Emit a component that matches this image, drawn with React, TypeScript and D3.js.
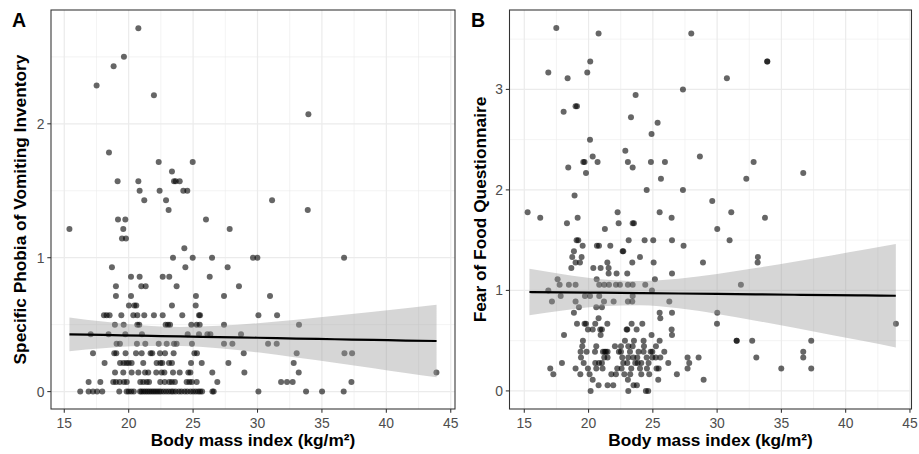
import React from "react";
import * as d3 from "d3";

// ---------- axis ticks ----------
const xTicks = [15, 20, 25, 30, 35, 40, 45];
const xMinor = [17.5, 22.5, 27.5, 32.5, 37.5, 42.5];
const spoviYTicks = [0, 1, 2];
const spoviYMinor = [0.5, 1.5, 2.5];
const fofqYTicks = [0, 1, 2, 3];
const fofqYMinor = [0.5, 1.5, 2.5, 3.5];

// ---------- Panel A: SPOVI (score, list of BMI values at that score) ----------
const spoviRows: [number, number[]][] = [
  [2.714, [20.75]],
  [2.5, [19.63]],
  [2.429, [18.83]],
  [2.286, [17.51]],
  [2.214, [21.96]],
  [2.071, [33.95]],
  [1.786, [18.47]],
  [1.714, [22.33, 24.97]],
  [1.643, [23.36]],
  [1.571, [19.14, 20.75, 23.52, 23.65, 23.96]],
  [1.5, [20.85, 22.4, 24.24, 24.55]],
  [1.429, [21.21, 22.9, 31.13]],
  [1.357, [23.1, 33.9]],
  [1.286, [19.17, 19.74, 26.0]],
  [1.214, [15.4, 19.58, 27.84]],
  [1.143, [19.48, 19.79]],
  [1.071, [24.32]],
  [1.0, [23.44, 24.97, 26.47, 29.65, 29.99, 36.72]],
  [0.929, [18.7, 24.4, 27.68]],
  [0.857, [20.18, 20.85, 22.64, 23.15, 26.29]],
  [0.786, [19.01, 20.98, 21.32, 23.72, 28.56]],
  [0.714, [19.01, 20.18, 25.22, 27.4, 30.97]],
  [0.643, [20.02, 20.44, 20.59, 23.36, 25.2]],
  [0.571, [18.08, 18.29, 18.52, 19.43, 20.36, 20.67, 21.21, 21.96, 22.64, 24.16, 25.46, 25.54, 30.07, 31.52]],
  [0.5, [18.93, 19.61, 20.67, 20.82, 22.87, 23.05, 23.21, 24.86, 25.28, 25.51, 27.4, 33.22]],
  [0.429, [17.05, 18.44, 19.74, 21.03, 24.58, 25.46, 26.11, 26.34, 28.72]],
  [0.357, [19.06, 19.32, 20.64, 21.29, 22.33, 22.95, 23.52, 23.72, 24.91, 27.4, 28.05, 30.82, 31.49]],
  [0.286, [17.23, 18.88, 19.04, 19.76, 20.57, 21.01, 21.7, 21.83, 22.43, 22.82, 23.49, 25.1, 25.3, 28.93, 33.04, 36.75, 37.34]],
  [0.214, [18.13, 19.33, 19.6, 19.82, 20.0, 20.23, 21.13, 22.17, 22.46, 22.61, 23.13, 23.36, 24.84, 25.67, 27.74, 32.81]],
  [0.143, [18.94, 19.58, 20.23, 20.75, 21.27, 21.52, 22.14, 22.56, 22.77, 23.44, 23.96, 24.63, 24.79, 26.49, 28.98, 33.2, 43.89]],
  [0.071, [16.89, 17.8, 18.8, 19.01, 19.3, 19.63, 19.85, 20.9, 21.13, 21.4, 21.58, 22.45, 22.8, 23.15, 23.35, 23.59, 24.5, 24.71, 24.9, 25.28, 26.88, 31.83, 32.29, 32.73, 37.29]],
  [0, [16.24, 16.89, 17.23, 17.55, 17.95, 19.27, 19.84, 20.0, 20.2, 20.4, 20.88, 21.0, 21.15, 21.3, 21.45, 21.6, 21.75, 21.9, 22.05, 22.2, 22.35, 22.5, 22.7, 22.9, 23.1, 23.3, 23.45, 23.65, 23.9, 24.1, 24.35, 24.55, 24.8, 25.0, 25.2, 25.4, 25.55, 25.7, 26.5, 26.6, 30.07, 33.77, 35.01, 36.69]],
];

// regression fit + 95% band
const spoviFitX = [15.4, 18, 21, 24, 27, 30, 33, 36, 39, 41.5, 43.9];
const spoviFit = [0.428, 0.423, 0.418, 0.412, 0.407, 0.402, 0.396, 0.391, 0.386, 0.381, 0.378];
const spoviLo = [0.302, 0.323, 0.34, 0.341, 0.323, 0.293, 0.255, 0.216, 0.175, 0.139, 0.107];
const spoviHi = [0.554, 0.523, 0.496, 0.483, 0.491, 0.511, 0.537, 0.566, 0.597, 0.623, 0.649];

// ---------- Panel B: FOFQ ----------
const fofqRows: [number, number[]][] = [
  [3.611, [17.49]],
  [3.556, [20.78, 27.99]],
  [3.278, [20.13, 33.9, 33.9]],
  [3.167, [16.87, 19.9]],
  [3.111, [18.37, 30.76]],
  [3.0, [27.34]],
  [2.944, [23.66]],
  [2.833, [18.99, 19.1]],
  [2.778, [18.06]],
  [2.722, [23.3]],
  [2.667, [25.37]],
  [2.556, [24.9]],
  [2.5, [20.11]],
  [2.389, [22.86]],
  [2.333, [20.32, 28.66]],
  [2.278, [19.59, 19.69, 20.7, 23.06, 24.85, 25.94, 32.84]],
  [2.222, [18.42, 23.43]],
  [2.167, [19.8, 36.7]],
  [2.111, [25.63, 32.27]],
  [2.0, [24.52, 27.34]],
  [1.944, [18.91]],
  [1.889, [29.62]],
  [1.778, [15.26, 22.26, 25.53, 31.1]],
  [1.722, [16.24, 19.15, 26.46, 33.72]],
  [1.667, [18.32, 22.34, 23.43, 23.53]],
  [1.611, [21.27, 30.01]],
  [1.5, [19.07, 19.2, 23.12, 24.36, 25.03, 26.49, 30.97]],
  [1.444, [19.54, 20.65, 20.81, 21.69, 27.39]],
  [1.389, [18.86, 22.65, 22.7]],
  [1.333, [18.73, 19.46, 24.0, 33.17]],
  [1.278, [18.99, 19.33, 21.46, 23.4, 25.06, 28.9, 33.15]],
  [1.222, [18.66, 20.37, 20.94, 21.56]],
  [1.167, [21.56, 22.18, 23.01, 26.49]],
  [1.111, [17.59, 20.63, 25.16]],
  [1.056, [17.75, 18.47, 18.99, 20.83, 21.22, 21.59, 22.13, 22.44, 23.06, 23.43, 24.41, 31.85]],
  [1.0, [16.87, 24.93]],
  [0.944, [17.83, 19.72, 20.11, 20.83, 23.43]],
  [0.889, [17.15, 18.99, 21.2, 21.95, 23.06, 23.4, 26.28]],
  [0.833, [19.25, 20.6, 21.04]],
  [0.778, [18.86, 25.53, 26.49, 30.01]],
  [0.722, [20.78, 25.58]],
  [0.667, [19.1, 19.69, 19.8, 20.52, 21.46, 23.35, 24.18, 29.99, 43.91]],
  [0.611, [19.95, 20.32, 20.91, 21.04, 22.96, 23.01, 23.74, 26.46]],
  [0.556, [18.09, 20.94, 24.9, 26.49]],
  [0.5, [19.56, 22.83, 23.53, 24.28, 25.53, 31.52, 31.52, 32.73, 37.32]],
  [0.444, [19.51, 20.6, 22.05, 22.52, 23.09, 23.43, 24.31, 25.24]],
  [0.389, [19.38, 19.85, 20.5, 21.12, 21.25, 21.35, 21.48, 22.36, 22.52, 23.22, 23.89, 24.28, 24.83, 24.96, 25.89, 36.7]],
  [0.333, [19.41, 21.22, 21.48, 22.62, 23.09, 23.48, 23.79, 24.52, 24.96, 25.22, 25.58, 27.7, 28.56, 33.05, 36.7]],
  [0.278, [17.93, 19.62, 20.52, 20.81, 21.04, 22.7, 23.01, 23.63, 23.82, 24.1, 24.67, 26.2, 27.83]],
  [0.222, [17.02, 18.99, 19.95, 20.6, 21.09, 22.23, 22.57, 23.32, 24.0, 24.54, 25.29, 25.45, 27.7, 34.99, 37.32]],
  [0.167, [17.26, 19.36, 20.08, 21.77, 22.13, 22.78, 23.24, 24.1, 24.72, 26.87]],
  [0.111, [20.32, 23.06, 25.42, 28.95]],
  [0.056, [20.78, 21.48, 21.92, 23.5, 23.76]],
  [0, [20.16, 23.09, 24.46, 24.64]],
];

const fofqFitX = [15.4, 18, 21, 24, 27, 30, 33, 36, 39, 41.5, 43.9];
const fofqFit = [0.984, 0.981, 0.977, 0.973, 0.969, 0.965, 0.961, 0.957, 0.953, 0.95, 0.947];
const fofqLo = [0.752, 0.8, 0.842, 0.852, 0.822, 0.766, 0.699, 0.628, 0.555, 0.493, 0.433];
const fofqHi = [1.216, 1.161, 1.112, 1.094, 1.117, 1.164, 1.223, 1.286, 1.351, 1.407, 1.461];

const FONT = "'Liberation Sans', Arial, Helvetica, sans-serif";
const GRID = "#ebebeb";
const DARK = "#333333";

type PanelProps = {
  left: number;
  right: number;
  top: number;
  bottom: number;
  xDomain: [number, number];
  yDomain: [number, number];
  yTicks: number[];
  yMinor: number[];
  rows: [number, number[]][];
  fitX: number[];
  fit: number[];
  lo: number[];
  hi: number[];
  tag: string;
  tagX: number;
  yTitle: string;
  yTitleX: number;
};

function Panel(p: PanelProps) {
  const x = d3.scaleLinear().domain(p.xDomain).range([p.left, p.right]);
  const y = d3.scaleLinear().domain(p.yDomain).range([p.bottom, p.top]);
  const pts: [number, number][] = [];
  p.rows.forEach(([s, bmis]) => bmis.forEach((b) => pts.push([b, s])));
  const idx = d3.range(p.fitX.length);
  const area = d3
    .area<number>()
    .x((i) => x(p.fitX[i]))
    .y0((i) => y(p.lo[i]))
    .y1((i) => y(p.hi[i]))
    .curve(d3.curveMonotoneX);
  const line = d3
    .line<number>()
    .x((i) => x(p.fitX[i]))
    .y((i) => y(p.fit[i]))
    .curve(d3.curveMonotoneX);
  const cx = (p.left + p.right) / 2;
  const cy = (p.top + p.bottom) / 2;
  return (
    <g>
      {xMinor.map((v) => (
        <line key={"xm" + v} x1={x(v)} x2={x(v)} y1={p.top} y2={p.bottom} stroke={GRID} strokeWidth={0.6} />
      ))}
      {p.yMinor.map((v) => (
        <line key={"ym" + v} x1={p.left} x2={p.right} y1={y(v)} y2={y(v)} stroke={GRID} strokeWidth={0.6} />
      ))}
      {xTicks.map((v) => (
        <line key={"xg" + v} x1={x(v)} x2={x(v)} y1={p.top} y2={p.bottom} stroke={GRID} strokeWidth={1.2} />
      ))}
      {p.yTicks.map((v) => (
        <line key={"yg" + v} x1={p.left} x2={p.right} y1={y(v)} y2={y(v)} stroke={GRID} strokeWidth={1.2} />
      ))}
      {pts.map((d, i) => (
        <circle key={"p" + i} cx={x(d[0])} cy={y(d[1])} r={3.0} fill="#000" fillOpacity={0.6} />
      ))}
      <path d={area(idx) || ""} fill="#999999" fillOpacity={0.4} />
      <path d={line(idx) || ""} fill="none" stroke="#000" strokeWidth={2.2} />
      <rect x={p.left} y={p.top} width={p.right - p.left} height={p.bottom - p.top} fill="none" stroke={DARK} strokeWidth={1.07} />
      {xTicks.map((v) => (
        <g key={"xt" + v}>
          <line x1={x(v)} x2={x(v)} y1={p.bottom} y2={p.bottom + 3.7} stroke={DARK} strokeWidth={1.07} />
          <text x={x(v)} y={428} textAnchor="middle" fontSize={13.9} fill="#4d4d4d" fontFamily={FONT}>
            {v}
          </text>
        </g>
      ))}
      {p.yTicks.map((v) => (
        <g key={"yt" + v}>
          <line x1={p.left - 3.7} x2={p.left} y1={y(v)} y2={y(v)} stroke={DARK} strokeWidth={1.07} />
          <text x={p.left - 6.6} y={y(v)} dy="0.36em" textAnchor="end" fontSize={13.9} fill="#4d4d4d" fontFamily={FONT}>
            {v}
          </text>
        </g>
      ))}
      <text x={cx} y={446} textAnchor="middle" fontSize={17.3} fontWeight="bold" fill="#000" fontFamily={FONT}>
        Body mass index (kg/m²)
      </text>
      <text
        transform={`translate(${p.yTitleX},${cy}) rotate(-90)`}
        textAnchor="middle"
        fontSize={17.3}
        fontWeight="bold"
        fill="#000"
        fontFamily={FONT}
      >
        {p.yTitle}
      </text>
      <text x={p.tagX} y={27} fontSize={19.5} fontWeight="bold" fill="#000" fontFamily={FONT}>
        {p.tag}
      </text>
    </g>
  );
}

export default function App() {
  return (
    <svg
      width={919}
      height={454}
      viewBox="0 0 919 454"
      style={{ position: "absolute", left: 0, top: 0, background: "#fff" }}
    >
      <rect x={0} y={0} width={919} height={454} fill="#fff" />
      <Panel
        left={51}
        right={455}
        top={10}
        bottom={409}
        xDomain={[13.97, 45.33]}
        yDomain={[-0.13, 2.85]}
        yTicks={spoviYTicks}
        yMinor={spoviYMinor}
        rows={spoviRows}
        fitX={spoviFitX}
        fit={spoviFit}
        lo={spoviLo}
        hi={spoviHi}
        tag="A"
        tagX={12}
        yTitle="Specific Phobia of Vomiting Inventory"
        yTitleX={26}
      />
      <Panel
        left={509.5}
        right={911.5}
        top={10}
        bottom={409}
        xDomain={[13.85, 45.12]}
        yDomain={[-0.18, 3.79]}
        yTicks={fofqYTicks}
        yMinor={fofqYMinor}
        rows={fofqRows}
        fitX={fofqFitX}
        fit={fofqFit}
        lo={fofqLo}
        hi={fofqHi}
        tag="B"
        tagX={471}
        yTitle="Fear of Food Questionnaire"
        yTitleX={486}
      />
    </svg>
  );
}
